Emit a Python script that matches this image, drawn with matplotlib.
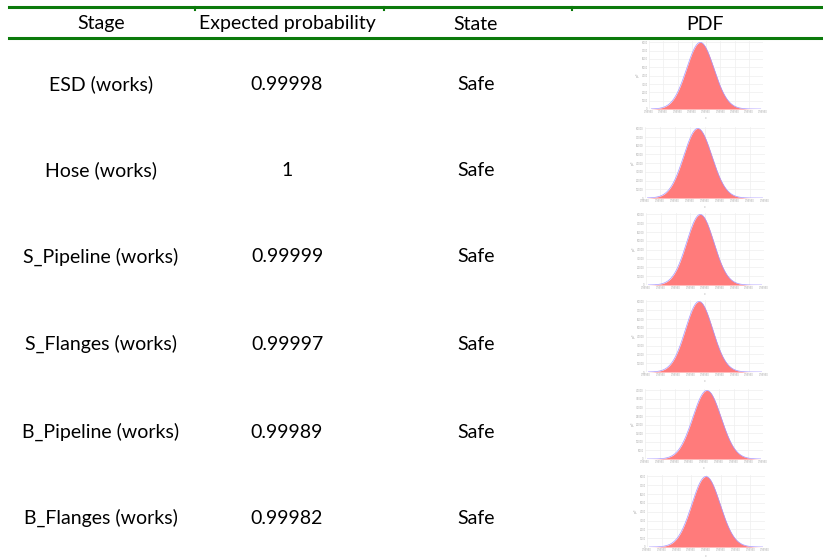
import numpy as np
import matplotlib.pyplot as plt
from matplotlib.lines import Line2D

W, H = 823, 558

# ---- table data ----
headers = ["Stage", "Expected probability", "State", "PDF"]
stages = ["ESD (works)", "Hose (works)", "S_Pipeline (works)", "S_Flanges (works)",
          "B_Pipeline (works)", "B_Flanges (works)"]
expected_prob = ["0.99998", "1", "0.99999", "0.99997", "0.99989", "0.99982"]
states = ["Safe", "Safe", "Safe", "Safe", "Safe", "Safe"]

# mini pdf panels: peak location and spread as fraction of the panel x range
pdf_peak_pos = [0.45, 0.44, 0.46, 0.45, 0.525, 0.50]
pdf_spread = [0.12, 0.117, 0.115, 0.115, 0.12, 0.12]
pdf_ymax = [8000, 80000, 80000, 80000, 40000, 8000]

# ---- layout (pixels) ----
col_x = [101, 287, 476, 705]
row_y = [84, 170, 257, 344, 432, 518]
header_y = 24
panel_box = [(649, 41, 763, 109), (645, 127, 765, 198), (646, 213, 764, 285),
             (646, 300, 764, 372), (645, 389, 763, 459), (647, 475, 765, 547)]

GREEN = "#0b7a0b"
FONT = ["Lato", "DejaVu Sans"]
FS = 14

fig = plt.figure(figsize=(W / 100, H / 100), dpi=100)
fig.patch.set_facecolor("white")


def fx(px):
    return px / W


def fy(py):
    return 1 - py / H


# green rules
for yy in (6.5, 38):
    fig.add_artist(Line2D([fx(9), 1], [fy(yy), fy(yy)], color=GREEN, lw=2.2))
for xx in (195, 384, 572):
    fig.add_artist(Line2D([fx(xx), fx(xx)], [fy(6.5), fy(10)], color=GREEN, lw=1.5))

for x, h in zip(col_x, headers):
    fig.text(fx(x), fy(header_y), h, ha="center", va="center", fontsize=FS, family=FONT)

for i, y in enumerate(row_y):
    fig.text(fx(col_x[0]), fy(y), stages[i], ha="center", va="center", fontsize=FS, family=FONT)
    fig.text(fx(col_x[1]), fy(y), expected_prob[i], ha="center", va="center", fontsize=FS, family=FONT)
    fig.text(fx(col_x[2]), fy(y), states[i], ha="center", va="center", fontsize=FS, family=FONT)

# mini pdf panels
for i, (x0, y0, x1, y1) in enumerate(panel_box):
    ax = fig.add_axes([fx(x0), fy(y1), fx(x1) - fx(x0), (y1 - y0) / H])
    xs = np.linspace(0.02, 0.98, 300)
    dens = np.exp(-0.5 * ((xs - pdf_peak_pos[i]) / pdf_spread[i]) ** 2) * pdf_ymax[i]
    ax.fill_between(xs, 0, dens, color="#ff7b7b", lw=0)
    ax.plot(xs, dens, color="#a596ff", lw=0.5)
    ax.set_xlim(0, 1)
    ax.set_ylim(0, pdf_ymax[i] * 1.02)
    ax.set_xticks(np.linspace(0, 1, 9))
    ax.set_xticklabels(["0.99990"] * 9)
    ax.set_yticks(np.linspace(0, pdf_ymax[i], 9))
    ax.set_yticklabels([str(int(v)) for v in np.linspace(0, pdf_ymax[i], 9)])
    ax.tick_params(labelsize=1.8, labelcolor="#aaaaaa", length=0, pad=1)
    ax.grid(True, color="#efefef", lw=0.5)
    ax.set_axisbelow(True)
    for s in ax.spines.values():
        s.set_visible(False)
    ax.set_xlabel("x", fontsize=2, color="#aaaaaa", labelpad=1)
    ax.set_ylabel("pdf", fontsize=2, color="#aaaaaa", labelpad=1)

fig.savefig("out.png", dpi=100)
